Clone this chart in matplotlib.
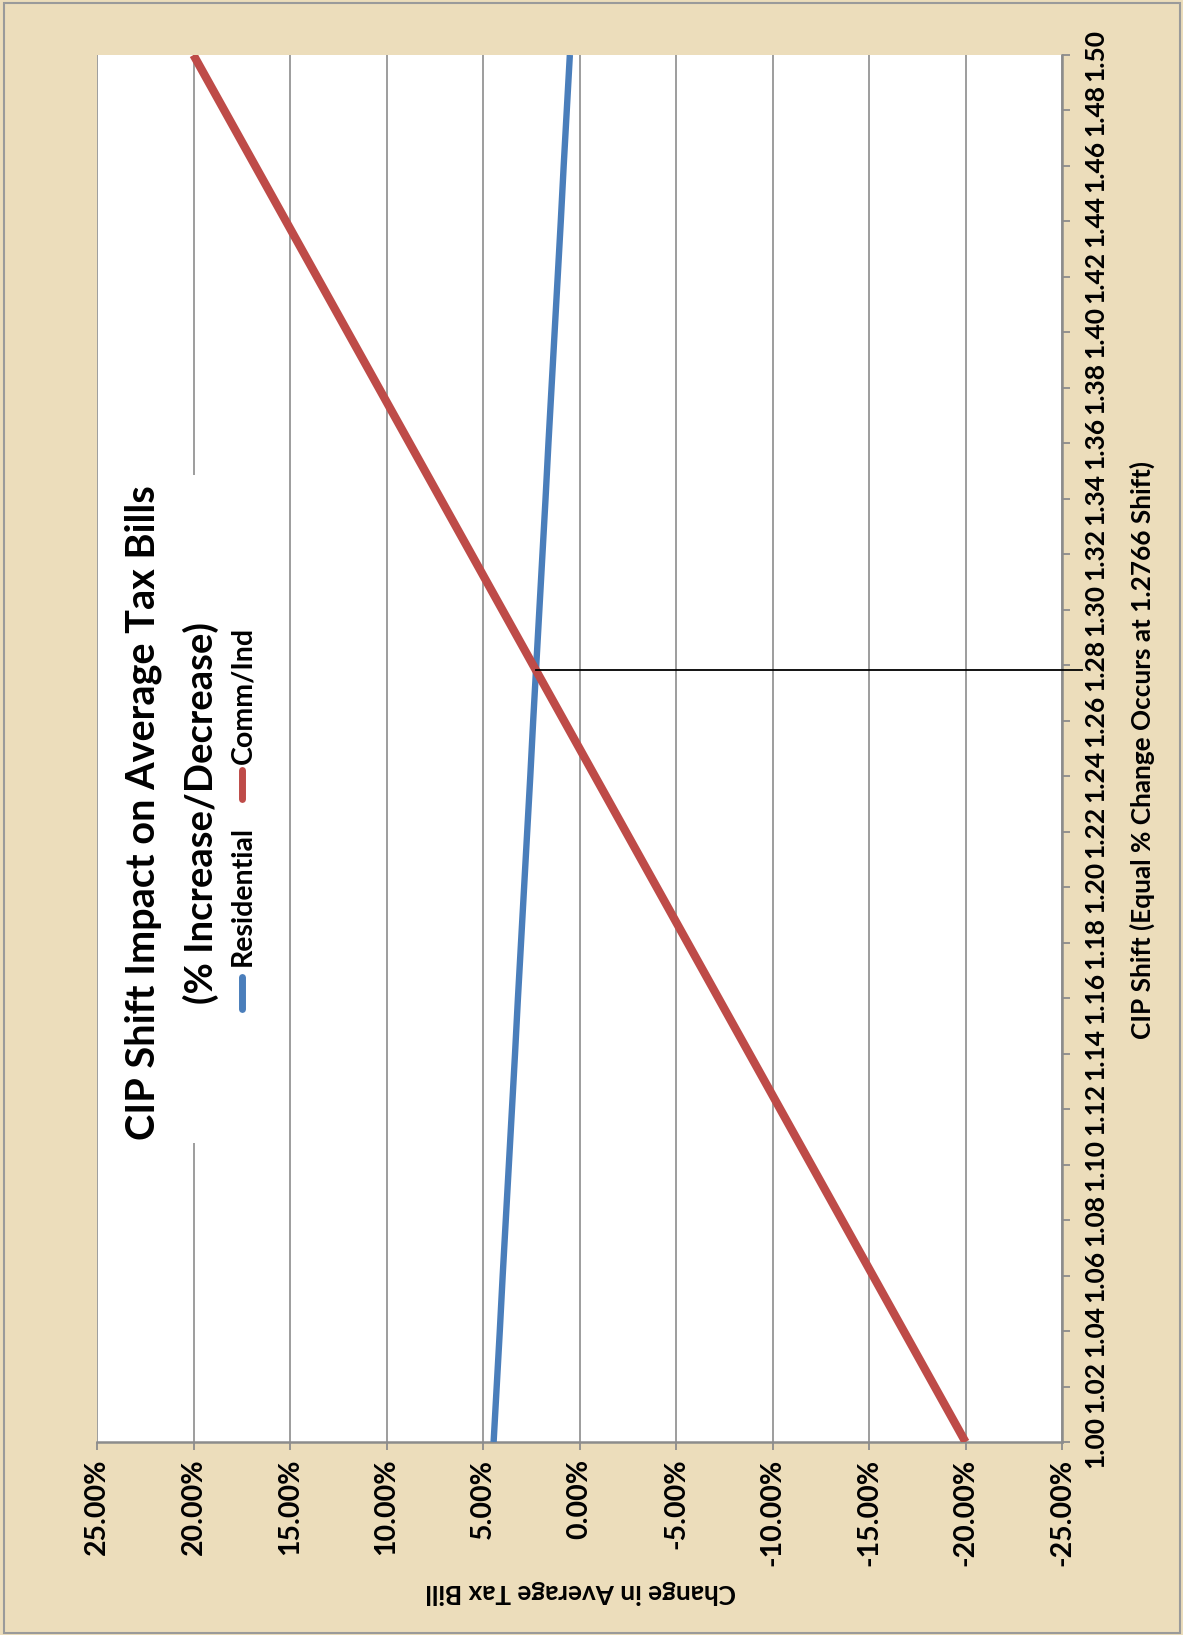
import matplotlib
matplotlib.use("Agg")
import matplotlib.pyplot as plt
from matplotlib.patches import Rectangle
from matplotlib.lines import Line2D

# ---- data ----
cip_shift = [1.00, 1.02, 1.04, 1.06, 1.08, 1.10, 1.12, 1.14, 1.16, 1.18, 1.20, 1.22, 1.24,
             1.26, 1.28, 1.30, 1.32, 1.34, 1.36, 1.38, 1.40, 1.42, 1.44, 1.46, 1.48, 1.50]
residential = [4.45, 4.29, 4.13, 3.98, 3.82, 3.66, 3.50, 3.34, 3.19, 3.03, 2.87, 2.71, 2.55,
               2.40, 2.24, 2.08, 1.92, 1.76, 1.61, 1.45, 1.29, 1.13, 0.97, 0.82, 0.66, 0.50]
comm_ind = [-20.0, -18.4, -16.8, -15.2, -13.6, -12.0, -10.4, -8.8, -7.2, -5.6, -4.0, -2.4, -0.8,
            0.8, 2.4, 4.0, 5.6, 7.2, 8.8, 10.4, 12.0, 13.6, 15.2, 16.8, 18.4, 20.0]
pct_ticks = [25, 20, 15, 10, 5, 0, -5, -10, -15, -20, -25]
pct_labels = ["25.00%", "20.00%", "15.00%", "10.00%", "5.00%", "0.00%",
              "-5.00%", "-10.00%", "-15.00%", "-20.00%", "-25.00%"]
shift_labels = [f"{v:.2f}" for v in cip_shift]
equal_shift = 1.2782
equal_pct = 2.26
series_names = ["Residential", "Comm/Ind"]
title_lines = ["CIP Shift Impact on Average Tax Bills", "(% Increase/Decrease)"]
x_title = "CIP Shift (Equal % Change Occurs at 1.2766 Shift)"
y_title = "Change in Average Tax Bill"

BLUE = "#4A7EBB"
RED = "#BE4B48"
GRID = "#8C8C8C"
BG = "#ECDDBB"
FONT = "Lato"

W, H = 1183, 1635
def fx(px): return px / W
def fy(py): return 1 - py / H

fig = plt.figure(figsize=(W / 100, H / 100), dpi=100, facecolor=BG)
fig.add_artist(Rectangle((fx(4), fy(H - 2)), fx(W - 7), (H - 5) / H, transform=fig.transFigure,
                         fill=False, edgecolor="#9A9A9A", linewidth=1.5))

L, R, T, B = 97, 1062, 55, 1442
ax = fig.add_axes([fx(L), fy(B), (R - L) / W, (B - T) / H])
ax.set_facecolor("white")

# rotated chart: horizontal = percent change (inverted), vertical = CIP shift
ax.plot(residential, cip_shift, color=BLUE, lw=4.6, solid_capstyle="butt", zorder=3)
ax.plot(comm_ind, cip_shift, color=RED, lw=6.0, solid_capstyle="butt", zorder=4)
ax.plot([equal_pct, -26.05], [equal_shift, equal_shift], color="black", lw=1.3,
        clip_on=False, zorder=5)

ax.set_xlim(25, -25)
ax.set_ylim(1.00, 1.50)
ax.set_xticks(pct_ticks)
ax.set_xticklabels(pct_labels)
ax.set_yticks(cip_shift)
ax.set_yticklabels(shift_labels)

ax.grid(axis="x", color=GRID, lw=1.2)
ax.grid(axis="y", visible=False)
ax.set_axisbelow(True)

for s in ["top", "left"]:
    ax.spines[s].set_visible(False)
for s in ["right", "bottom"]:
    ax.spines[s].set_color(GRID)
    ax.spines[s].set_linewidth(1.8)

ax.yaxis.tick_right()
ax.tick_params(axis="both", direction="out", length=6, width=1.3, color=GRID)
ax.tick_params(axis="y", pad=9)
ax.tick_params(axis="x", pad=6)
for t in ax.get_yticklabels():
    t.set_rotation(90)
    t.set_va("center")
    t.set_ha("left")
    t.set_fontfamily(FONT)
    t.set_fontweight("bold")
    t.set_fontsize(19)
for t in ax.get_xticklabels():
    t.set_rotation(90)
    t.set_va("top")
    t.set_ha("center")
    t.set_fontfamily(FONT)
    t.set_fontweight("bold")
    t.set_fontsize(20.5)

# white title box hiding gridlines
ax.add_patch(Rectangle((0.004, (B - 1143) / (B - T)), (225 - L) / (R - L), (1143 - 475) / (B - T),
                       transform=ax.transAxes, facecolor="white", edgecolor="none", zorder=1))

# titles
fig.text(fx(143), fy(813), title_lines[0], rotation=90, ha="center", va="center",
         fontfamily=FONT, fontweight="bold", fontsize=28.5)
fig.text(fx(201), fy(813), title_lines[1], rotation=90, ha="center", va="center",
         fontfamily=FONT, fontweight="bold", fontsize=27.5)
fig.text(fx(1142), fy(750), x_title, rotation=90, ha="center", va="center",
         fontfamily=FONT, fontweight="bold", fontsize=18.8)
fig.text(fx(581), fy(1592), y_title, rotation=180, ha="center", va="center",
         fontfamily=FONT, fontweight="bold", fontsize=18.8)

# legend (rotated)
fig.add_artist(Line2D([fx(242), fx(242)], [fy(1009), fy(977)], transform=fig.transFigure,
                      color=BLUE, lw=5.0, solid_capstyle="round"))
fig.text(fx(243), fy(966), series_names[0], rotation=90, ha="center", va="bottom",
         fontfamily=FONT, fontweight="bold", fontsize=20.5)
fig.add_artist(Line2D([fx(242), fx(242)], [fy(799), fy(770)], transform=fig.transFigure,
                      color=RED, lw=5.0, solid_capstyle="round"))
fig.text(fx(243), fy(764), series_names[1], rotation=90, ha="center", va="bottom",
         fontfamily=FONT, fontweight="bold", fontsize=20.5)

fig.savefig("out.png", dpi=100, facecolor=BG)
